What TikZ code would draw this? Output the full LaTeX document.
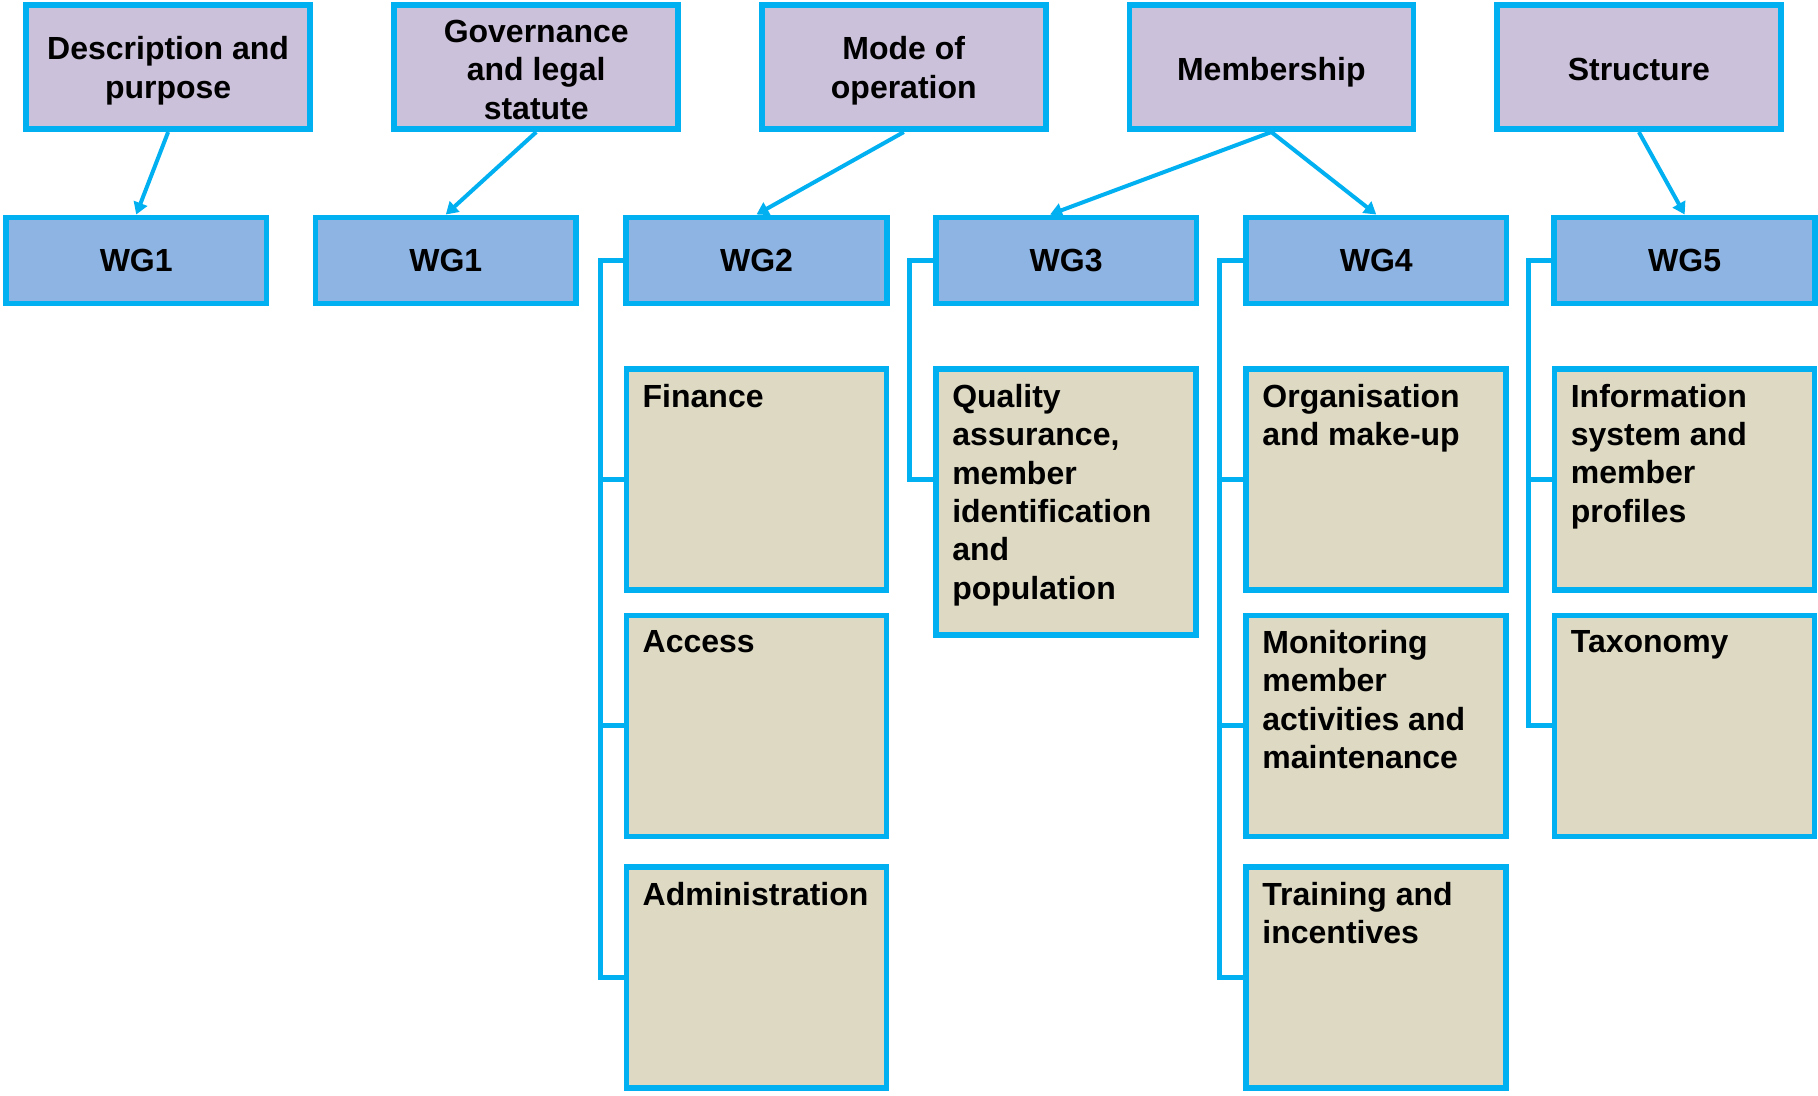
\documentclass[tikz,border=0pt]{standalone}
\usepackage{fontspec}
\setmainfont{Liberation Sans}
\usepackage{xcolor}
\usetikzlibrary{arrows.meta}
\definecolor{lineblue}{HTML}{00B0F0}
\definecolor{topfill}{HTML}{CCC1DA}
\definecolor{wgfill}{HTML}{8EB4E3}
\definecolor{tanfill}{HTML}{DDD9C3}
\tikzset{
    topbox/.style={draw=lineblue, fill=topfill, line width=2.8pt, minimum width=142pt, minimum height=62pt, inner sep=0pt},
    toptext/.style={inner sep=0pt, align=center, font=\fontsize{16}{19.2}\selectfont\bfseries},
    wgbox/.style={draw=lineblue, fill=wgfill, line width=2.8pt, minimum width=130.4pt, minimum height=43pt, inner sep=0pt, font=\fontsize{16}{19.2}\selectfont\bfseries},
    tanbox/.style={draw=lineblue, fill=tanfill, line width=2.8pt, minimum width=130pt, minimum height=110.5pt, inner sep=0pt},
    tantext/.style={anchor=north west, inner sep=0pt, align=left, font=\fontsize{16}{19.2}\selectfont\bfseries},
    bracket/.style={draw=lineblue, line width=2.6pt},
    link/.style={draw=lineblue, line width=2pt, -{Triangle[length=6pt,width=7pt]}}
}
\begin{document}
\begin{tikzpicture}[line join=miter, x=0.5797pt, y=-0.5797pt]
    \useasboundingbox (0,0) rectangle (1568,945);
    % top row
    \node[topbox] (desc) at (145,58) {};
    \node[topbox] (gov) at (462.5,58) {};
    \node[topbox] (mode) at (779.5,58) {};
    \node[topbox] (memb) at (1096.5,58) {};
    \node[topbox] (struct) at (1413.5,58) {};
    \node[toptext] (desc-t) at ([yshift=-1.7pt]desc.center) {Description and\\purpose};
    \node[toptext] (gov-t) at ([yshift=-1.2pt]gov.center) {Governance\\and legal\\statute};
    \node[toptext] (mode-t) at ([yshift=-1.7pt]mode.center) {Mode of\\operation};
    \node[toptext] (memb-t) at ([yshift=-2.3pt]memb.center) {Membership};
    \node[toptext] (struct-t) at ([yshift=-1.2pt]struct.center) {Structure};
    % working groups
    \node[wgbox] (wg1a) at (117.5,224.5) {WG1};
    \node[wgbox] (wg1b) at (384.5,224.5) {WG1};
    \node[wgbox] (wg2) at (652.5,224.5) {WG2};
    \node[wgbox] (wg3) at (919.5,224.5) {WG3};
    \node[wgbox] (wg4) at (1187,224.5) {WG4};
    \node[wgbox] (wg5) at (1453,224.5) {WG5};
    % topics
    \node[tanbox] (fin) at (652.5,413.5) {};
    \node[tanbox] (acc) at (652.5,626) {};
    \node[tanbox] (adm) at (652.5,843) {};
    \node[tanbox, minimum height=133pt] (qual) at (919.5,433) {};
    \node[tanbox] (org) at (1187,413.5) {};
    \node[tanbox] (mon) at (1187,626) {};
    \node[tanbox] (train) at (1187,843) {};
    \node[tanbox] (info) at (1453,413.5) {};
    \node[tanbox] (tax) at (1453,626) {};
    \node[tantext] (fin-t) at ([shift={(16,15)}]fin.north west) {Finance};
    \node[tantext] (acc-t) at ([shift={(16,15)}]acc.north west) {Access};
    \node[tantext] (adm-t) at ([shift={(16,15)}]adm.north west) {Administration};
    \node[tantext] (qual-t) at ([shift={(16,15)}]qual.north west) {Quality\\assurance,\\member\\identification\\and\\population};
    \node[tantext] (org-t) at ([shift={(16,15)}]org.north west) {Organisation\\and make-up};
    \node[tantext] (mon-t) at ([shift={(16,15)}]mon.north west) {Monitoring\\member\\activities and\\maintenance};
    \node[tantext] (train-t) at ([shift={(16,15)}]train.north west) {Training and\\incentives};
    \node[tantext] (info-t) at ([shift={(16,15)}]info.north west) {Information\\system and\\member\\profiles};
    \node[tantext] (tax-t) at ([shift={(16,15)}]tax.north west) {Taxonomy};
    % arrows
    \draw[link] (desc.south) -- (wg1a.north);
    \draw[link] (gov.south) -- (wg1b.north);
    \draw[link] (mode.south) -- (wg2.north);
    \draw[link] (memb.south) -- ([xshift=-8]wg3.north);
    \draw[link] (memb.south) -- (wg4.north);
    \draw[link] (struct.south) -- (wg5.north);
    % brackets
    \draw[bracket] (wg2.west) -- ++(-20,0) |- (adm.west);
    \draw[bracket] (fin.west) -- ++(-20,0);
    \draw[bracket] (acc.west) -- ++(-20,0);
    \draw[bracket] (wg3.west) -- ++(-20,0) |- (qual.west |- org.west);
    \draw[bracket] (wg4.west) -- ++(-20,0) |- (train.west);
    \draw[bracket] (org.west) -- ++(-20,0);
    \draw[bracket] (mon.west) -- ++(-20,0);
    \draw[bracket] (wg5.west) -- ++(-20,0) |- (tax.west);
    \draw[bracket] (info.west) -- ++(-20,0);
\end{tikzpicture}
\end{document}
